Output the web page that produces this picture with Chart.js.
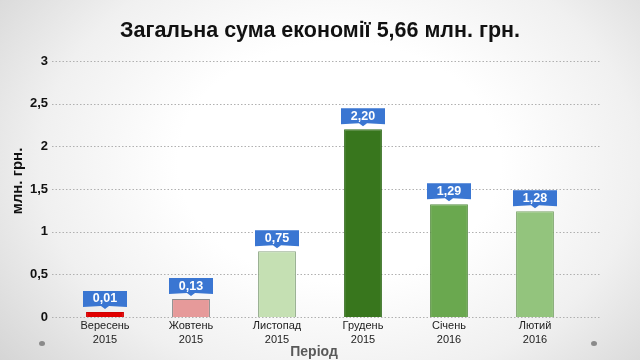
<!DOCTYPE html>
<html>
<head>
<meta charset="utf-8">
<script src="https://cdn.jsdelivr.net/npm/chart.js@4"></script>
<style>
html,body{margin:0;padding:0;}
body{width:640px;height:360px;overflow:hidden;position:relative;
background:radial-gradient(ellipse 72% 95% at 53% 45%, #ffffff 35%, #f0f0f0 65%, #cfcfcf 100%);}
#c{position:absolute;left:0;top:0;}
.dot{position:absolute;width:6px;height:5px;border-radius:50%;background:#8a8a8a;}
</style>
</head>
<body>
<div class="dot" style="left:39px;top:341px"></div>
<div class="dot" style="left:591px;top:341px"></div>
<canvas id="c" width="640" height="360"></canvas>
<script>
const chartTitle = "Загальна сума економії 5,66 млн. грн.";
const yTitle = "млн. грн.";
const xTitle = "Період";
const months = ["Вересень", "Жовтень", "Листопад", "Грудень", "Січень", "Лютий"];
const years = ["2015", "2015", "2015", "2015", "2016", "2016"];
const barValues = [0.06, 0.21, 0.77, 2.20, 1.32, 1.24];
const valueLabels = ["0,01", "0,13", "0,75", "2,20", "1,29", "1,28"];
const yTicks = [0, 0.5, 1, 1.5, 2, 2.5, 3];
const barColors = ["#e00000", "#e69a9a", "#c5e0b3", "#38761d", "#6aa84f", "#93c47d"];
const borderColors = ["#d00000", "#8c8c8c", "#8aa482", "#2f6a1a", "#5a8f45", "#7aa368"];

const FONT = "'Liberation Sans', Arial, sans-serif";

const gridPlugin = {
  id: 'grid',
  beforeDatasetsDraw(chart) {
    const ctx = chart.ctx, y = chart.scales.y;
    ctx.save();
    ctx.strokeStyle = '#b0b0b0';
    ctx.lineWidth = 1;
    ctx.setLineDash([1.5, 2]);
    yTicks.forEach(v => {
      const py = Math.round(y.getPixelForValue(v)) + 0.5;
      ctx.beginPath(); ctx.moveTo(52, py); ctx.lineTo(600, py); ctx.stroke();
    });
    ctx.restore();
  }
};

const textPlugin = {
  id: 'texts',
  afterDraw(chart) {
    const ctx = chart.ctx;
    ctx.save();
    ctx.textAlign = 'center';
    ctx.textBaseline = 'middle';
    ctx.fillStyle = '#111111';
    ctx.font = "bold 21.5px " + FONT;
    ctx.fillText(chartTitle, 320, 31);
    ctx.fillStyle = '#595959';
    ctx.font = "bold 14px " + FONT;
    ctx.fillText(xTitle, 314, 352);
    ctx.translate(18, 181);
    ctx.rotate(-Math.PI / 2);
    ctx.fillStyle = '#111111';
    ctx.font = "bold 15px " + FONT;
    ctx.fillText(yTitle, 0, 0);
    ctx.restore();
  }
};

const calloutPlugin = {
  id: 'callout',
  afterDatasetsDraw(chart) {
    const ctx = chart.ctx;
    const meta = chart.getDatasetMeta(0);
    ctx.save();
    meta.data.forEach((bar, i) => {
      const x = bar.x, top = bar.y;
      const w = 44, h = 15;
      const bottom = top - 6;
      const t = bottom - h;
      ctx.fillStyle = '#3a76d2';
      ctx.beginPath();
      ctx.moveTo(x - w / 2, t);
      ctx.lineTo(x + w / 2, t);
      ctx.lineTo(x + w / 2, bottom + 1);
      ctx.lineTo(x + 4, bottom);
      ctx.lineTo(x, bottom + 3);
      ctx.lineTo(x - 4, bottom);
      ctx.lineTo(x - w / 2, bottom + 1);
      ctx.closePath();
      ctx.fill();
      ctx.fillStyle = '#ffffff';
      ctx.font = "bold 12.5px " + FONT;
      ctx.textAlign = 'center';
      ctx.textBaseline = 'middle';
      ctx.fillText(valueLabels[i], x, t + h / 2 + 0.5);
    });
    ctx.restore();
  }
};

new Chart(document.getElementById('c'), {
  type: 'bar',
  data: {
    labels: months.map((m, i) => [m, years[i]]),
    datasets: [{
      data: barValues,
      backgroundColor: barColors,
      borderColor: borderColors,
      borderWidth: 1,
      barPercentage: 0.44,
      categoryPercentage: 1
    }]
  },
  options: {
    responsive: false,
    animation: false,
    devicePixelRatio: 1,
    layout: { padding: { left: 0, right: 62, top: 61, bottom: 0 } },
    plugins: {
      legend: { display: false },
      tooltip: { enabled: false },
      title: { display: false }
    },
    scales: {
      x: {
        grid: { display: false, drawTicks: false },
        border: { display: false },
        ticks: { color: '#222222', font: { family: FONT, size: 11, lineHeight: 1.27 }, padding: 2, maxRotation: 0, autoSkip: false },
        afterFit(s) { s.height = 43; }
      },
      y: {
        min: 0, max: 3,
        afterBuildTicks(s) { s.ticks = yTicks.map(v => ({ value: v })); },
        grid: { display: false, drawTicks: false },
        border: { display: false },
        ticks: {
          color: '#111111', padding: 14,
          font: { family: FONT, size: 13, weight: 'bold' },
          callback: v => String(v).replace('.', ',')
        },
        afterFit(s) { s.width = 62; }
      }
    }
  },
  plugins: [gridPlugin, calloutPlugin, textPlugin]
});
</script>
</body>
</html>
